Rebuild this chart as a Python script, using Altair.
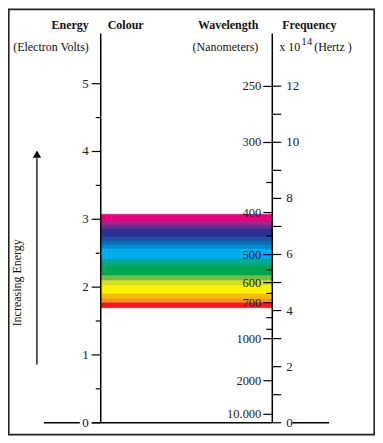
import altair as alt
import pandas as pd

FONT = "Liberation Serif"
HC = 1239.84      # eV * nm
HF = 0.413567     # eV per 10^14 Hz

# ---- data ----
energy_major = [0, 1, 2, 3, 4, 5]
energy_minor = [0.5, 1.5, 2.5, 3.5, 4.5]
wl_major = [250, 300, 400, 500, 600, 700, 1000, 2000, 10000]
wl_labels = ["250", "300", "400", "500", "600", "700", "1000", "2000", "10.000"]
wl_minor = [350, 450, 550, 650, 800, 900]
freq_major = [0, 2, 4, 6, 8, 10, 12]
freq_minor = [1, 3, 5, 7, 9, 11]

band_edges_ev = [3.075, 2.975, 2.916, 2.857, 2.740, 2.681, 2.622, 2.563, 2.416,
                 2.357, 2.313, 2.166, 2.093, 2.019, 1.901, 1.828, 1.769, 1.696]
band_colors = ["#E6007E", "#B01F8C", "#6A2C91", "#2E3192", "#1F4FA0", "#0B6DB6",
               "#008BD0", "#00AEEF", "#00A99D", "#00A77B", "#00A651", "#72BF44",
               "#D7DF23", "#FFF200", "#FDB913", "#F7941D", "#ED1C24"]

# ---- tables ----
e_major = pd.DataFrame({"E": energy_major, "label": [str(v) for v in energy_major]})
e_minor = pd.DataFrame({"E": energy_minor})
w_major = pd.DataFrame({"E": [HC / w for w in wl_major], "label": wl_labels})
w_minor = pd.DataFrame({"E": [HC / w for w in wl_minor]})
f_major = pd.DataFrame({"E": [HF * f for f in freq_major], "label": [str(f) for f in freq_major]})
f_minor = pd.DataFrame({"E": [HF * f for f in freq_minor]})
band = pd.DataFrame({"top": band_edges_ev[:-1], "bottom": band_edges_ev[1:], "col": band_colors})
zero = pd.DataFrame({"E": [0]})
one = pd.DataFrame({"a": [0]})

yscale = alt.Scale(domain=[0, 5], range=[415.3, 75.3])
Y = alt.Y("E:Q", scale=yscale, axis=None)


def hrules(df, x1, x2, sw=1.2):
    return alt.Chart(df).mark_rule(color="black", strokeWidth=sw).encode(
        y=Y, x=alt.value(x1), x2=alt.value(x2))


def labels(df, x, align, size=13):
    return alt.Chart(df).mark_text(align=align, baseline="middle", font=FONT,
                                   fontSize=size, color="#222").encode(
        y=Y, x=alt.value(x), text="label:N")


def note(txt, x, y, align="left", size=12, weight="normal", angle=0):
    return alt.Chart(pd.DataFrame({"t": [txt]})).mark_text(
        align=align, baseline="middle", font=FONT, fontSize=size,
        fontWeight=weight, color="#111", angle=angle).encode(
        x=alt.value(x), y=alt.value(y), text="t:N")


def vline(x, y1, y2, sw=1.5):
    return alt.Chart(one).mark_rule(color="black", strokeWidth=sw).encode(
        x=alt.value(x), y=alt.value(y1), y2=alt.value(y2))


bands = alt.Chart(band).mark_rect(strokeWidth=0.5).encode(
    y=alt.Y("top:Q", scale=yscale, axis=None), y2="bottom:Q",
    x=alt.value(93), x2=alt.value(265),
    color=alt.Color("col:N", scale=None), stroke=alt.Color("col:N", scale=None))

border = alt.Chart(one).mark_rect(filled=False, stroke="#222", strokeWidth=1.6).encode(
    x=alt.value(0.8), x2=alt.value(367.2), y=alt.value(0.8), y2=alt.value(427.2))

arrow_head = alt.Chart(one).mark_point(shape="triangle-up", filled=True, size=70,
                                        color="black", opacity=1).encode(
    x=alt.value(29), y=alt.value(146))

chart = alt.layer(
    border,
    bands,
    vline(93, 25, 415.3),
    vline(265, 25, 415.3),
    hrules(zero, 84, 265, 1.5),
    hrules(zero, 36, 72, 1.5),
    hrules(zero, 285, 322, 1.5),
    hrules(e_major, 84, 93),
    hrules(e_minor, 88, 93),
    hrules(w_major, 256, 265),
    hrules(w_minor, 259, 265),
    hrules(f_major, 265, 274),
    hrules(f_minor, 265, 274),
    labels(e_major, 81, "right"),
    labels(w_major, 254, "right", 12.5),
    labels(f_major, 279, "left"),
    note("Energy", 81, 16, "right", 12, "bold"),
    note("Colour", 100, 16, "left", 12, "bold"),
    note("Wavelength", 251, 16, "right", 12, "bold"),
    note("Frequency", 275, 16, "left", 12, "bold"),
    note("(Electron Volts)", 81, 39, "right"),
    note("(Nanometers)", 251, 39, "right"),
    note("x 10", 272, 39, "left"),
    note("14", 294, 34, "left", 11),
    note("(Hertz )", 307, 39, "left"),
    note("Increasing Energy", 9, 275, "center", 12, "normal", 270),
    vline(29, 150, 357, 1.3),
    arrow_head,
).properties(
    width=368, height=428,
    autosize=alt.AutoSizeParams(type="none"),
    padding=0,
).configure_view(stroke=None)

chart.save("out.html", embed_options={"renderer": "svg", "actions": False})
